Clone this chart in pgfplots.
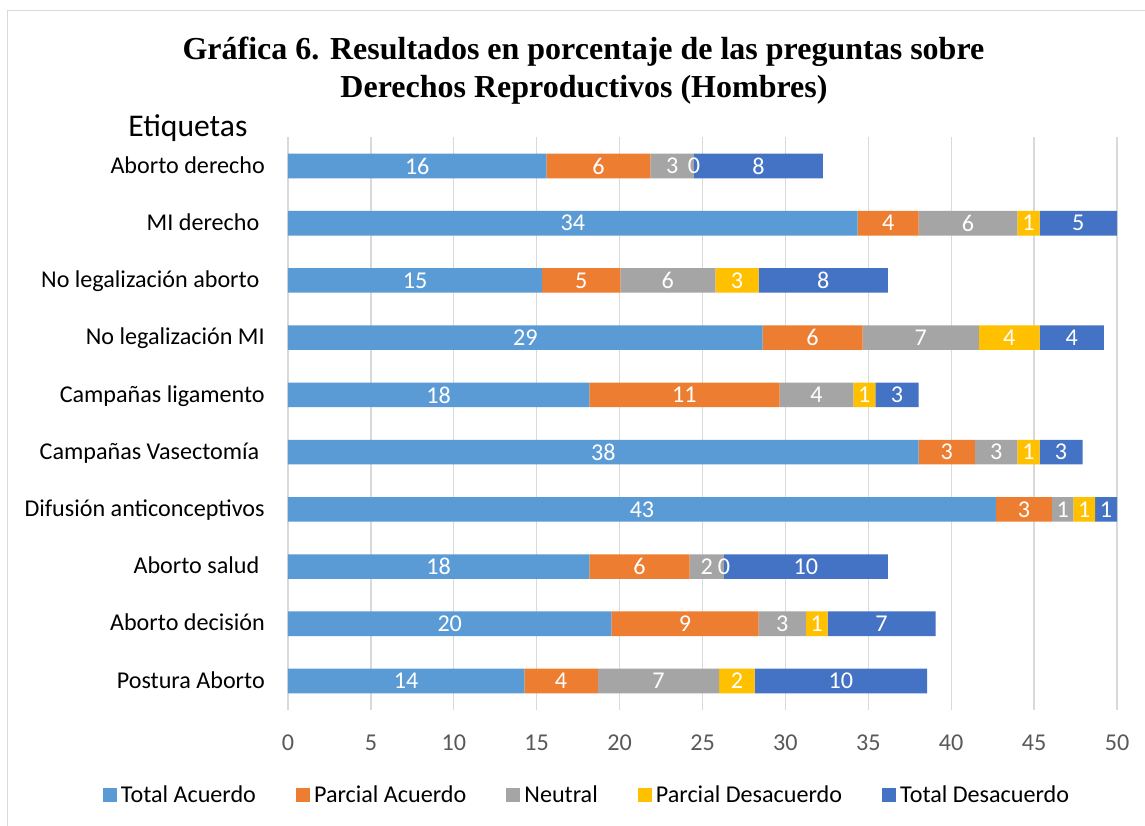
\documentclass[border=0pt]{standalone}
\usepackage{pgfplots}
\pgfplotsset{compat=1.18}
\usepackage{pgfplotstable}
\usepackage{fontspec}
\setmainfont{Carlito}
\newfontfamily\calibri{Carlito}
\newfontfamily\titlefont{Liberation Serif}
\definecolor{cTA}{HTML}{5B9BD5}
\definecolor{cPA}{HTML}{ED7D31}
\definecolor{cNE}{HTML}{A5A5A5}
\definecolor{cPD}{HTML}{FFC000}
\definecolor{cTD}{HTML}{4472C4}
\definecolor{gridc}{HTML}{D9D9D9}
\definecolor{tickc}{HTML}{595959}

\pgfplotstableread{
idx ta pa ne pd td
0 14.25 4.44 7.32 2.13 10.41
1 19.51 8.87 2.85 1.31 6.52
2 18.17 6.06 2.06 0.001 9.89
3 42.70 3.37 1.30 1.31 1.32
4 38.03 3.40 2.56 1.34 2.59
5 18.17 11.48 4.45 1.32 2.61
6 28.62 6.03 7.02 3.66 3.88
7 15.33 4.71 5.73 2.61 7.80
8 34.36 3.67 5.96 1.34 4.67
9 15.59 6.27 2.62 0.001 7.78
}\datatable

\newcommand{\lblfont}{\calibri\fontsize{18.1pt}{21.5pt}\selectfont}
\newcommand{\tsp}{\hspace*{0.226em}}

\begin{document}
\begin{tikzpicture}
\useasboundingbox (-216pt,-86.55pt) rectangle (642.75pt,532.2pt);
\fill[white] (-216pt,-86.55pt) rectangle (642.75pt,532.2pt);
\draw[gridc, line width=0.75pt] (-210.1pt,-90pt) -- (-210.1pt,524.3pt) -- (650pt,524.3pt);
\begin{axis}[
  at={(0pt,0pt)}, anchor=south west,
  scale only axis,
  width=621.75pt, height=429.15pt,
  xbar stacked,
  bar width=18.45pt,
  xmin=0, xmax=50,
  ymin=-0.5, ymax=9.5,
  xtick={0,5,...,50},
  ytick={0,...,9},
  yticklabels={Postura Aborto, Aborto decisión, Aborto salud\tsp, Difusión anticonceptivos, Campañas Vasectomía\tsp, Campañas ligamento, No legalización MI, No legalización aborto\tsp, MI derecho\tsp, Aborto derecho},
  xmajorgrids,
  grid style={draw=gridc, line width=1pt},
  axis line style={draw=none},
  major tick length=0pt,
  tick style={draw=none},
  /pgf/number format/assume math mode=true,
  x tick label style={font=\lblfont, text=tickc, inner sep=0pt, anchor=north, yshift=-18.5pt},
  y tick label style={font=\lblfont, text=black, inner sep=0pt, anchor=east, xshift=-17.25pt, yshift=-2.2pt, text height=0.644em, text depth=0pt},
  point meta=explicit,
  nodes near coords={\pgfmathprintnumber[fixed,precision=0]{\pgfplotspointmeta}},
  every node near coord/.append style={font=\lblfont, text=white, anchor=center, inner sep=0pt},
  clip=false,
  legend columns=5,
  legend style={draw=none, fill=none, font=\lblfont, at={(axis description cs:0.3619,-0.149)}, anchor=center,
    /tikz/every even column/.append style={column sep=26.5pt},
    nodes={inner sep=3.3pt}},
  legend image code/.code={\fill[#1] (0pt,-5.25pt) rectangle (10.5pt,5.25pt);},
]
\addplot[fill=cTA, draw=none] table[x=ta,y=idx,meta=ta]{\datatable};
\addplot[fill=cPA, draw=none] table[x=pa,y=idx,meta=pa]{\datatable};
\addplot[fill=cNE, draw=none] table[x=ne,y=idx,meta=ne]{\datatable};
\addplot[fill=cPD, draw=none] table[x=pd,y=idx,meta=pd]{\datatable};
\addplot[fill=cTD, draw=none] table[x=td,y=idx,meta=td]{\datatable};
\legend{Total Acuerdo, Parcial Acuerdo, Neutral, Parcial Desacuerdo, Total Desacuerdo}
\end{axis}
\node[anchor=base, inner sep=0pt, font=\titlefont\bfseries\fontsize{24pt}{28.5pt}\selectfont] at (221.6pt,487.2pt) {Gráfica 6. Resultados en porcentaje de las preguntas sobre};
\node[anchor=base, inner sep=0pt, font=\titlefont\bfseries\fontsize{24pt}{28.5pt}\selectfont] at (222pt,458.7pt) {Derechos Reproductivos (Hombres)};
\node[anchor=base west, inner sep=0pt, font=\calibri\fontsize{23.7pt}{28pt}\selectfont] at (-120pt,429.7pt) {Etiquetas};
\end{tikzpicture}
\end{document}
